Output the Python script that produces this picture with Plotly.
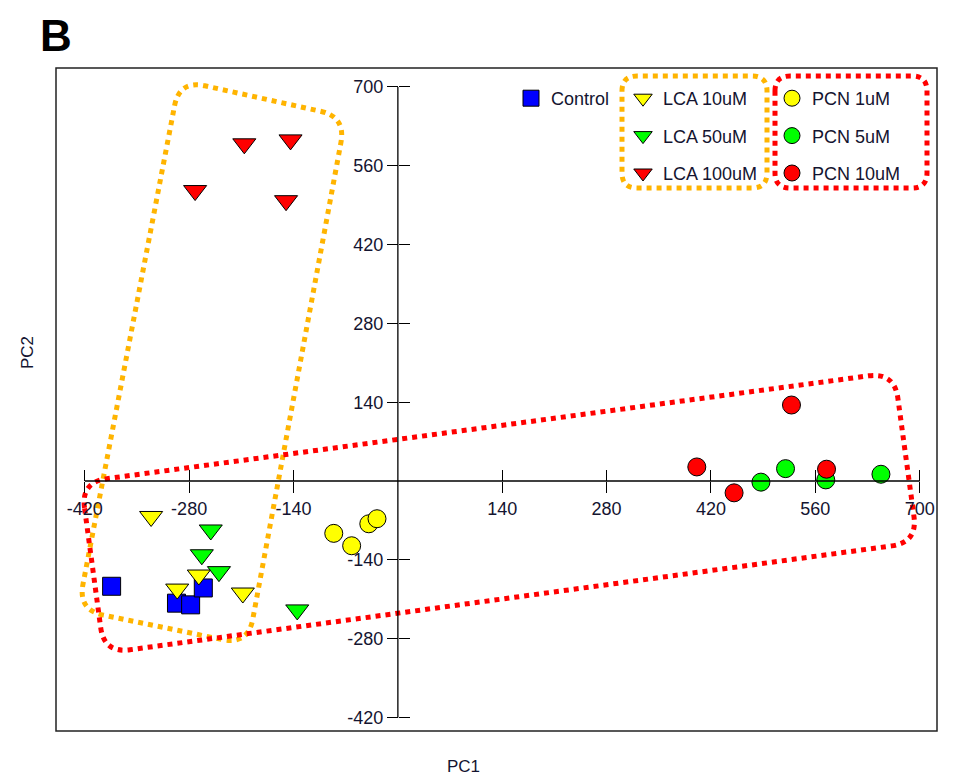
import math
import plotly.graph_objects as go

# ---------------- data ----------------
control_x = [-384, -297, -278, -261]
control_y = [-187, -217, -220, -190]
lca10_x = [-331, -296, -267, -208]
lca10_y = [-63, -192, -167, -199]
lca50_x = [-251, -263, -240, -135]
lca50_y = [-87, -131, -161, -229]
lca100_x = [-206, -144, -272, -150]
lca100_y = [599, 606, 516, 498]
pcn1_x = [-86, -62, -39, -28]
pcn1_y = [-93, -115, -76, -67]
pcn5_x = [487, 520, 574, 648]
pcn5_y = [-2, 22, 2, 12]
pcn10_x = [401, 451, 528, 575]
pcn10_y = [25, -21, 135, 21]

x_ticks = [-420, -280, -140, 140, 280, 420, 560, 700]
y_ticks = [-420, -280, -140, 140, 280, 420, 560, 700]
x_ticktext = [str(v) for v in x_ticks]
y_ticktext = [str(v) for v in y_ticks]

# group outlines (corners in data units)
lca_group = [(-293, 712), (-70, 647), (-201, -291), (-429, -229)]
pcn_group = [(-425, -2), (666, 193), (697, -109), (-394, -306)]

# ---------------- geometry ----------------
OFF = 8                      # page body margin
W, H = 954 - OFF, 782 - OFF
PX0, PX1, PY0, PY1 = 56, 937, 68, 731   # plot area on screen
ML, MT = PX0 - OFF, PY0 - OFF
MR, MB = W - (PX1 - OFF), H - (PY1 - OFF)
PW, PH = PX1 - PX0, PY1 - PY0
XR = [-458.6, 723.2]
YR = [-444.1, 733.7]
FONT = "Liberation Sans, Arial, sans-serif"
TXT = "#141430"


def to_px(x, y):
    return (PX0 + (x - XR[0]) / (XR[1] - XR[0]) * PW,
            PY0 + (YR[1] - y) / (YR[1] - YR[0]) * PH)


def px_to_paper(px, py):
    return ((px - PX0) / PW, (PY1 - py) / PH)


def rounded_path(pts, r):
    n = len(pts)
    segs = []
    for i in range(n):
        p = pts[i]
        a = pts[i - 1]
        b = pts[(i + 1) % n]

        def unit(q):
            dx, dy = q[0] - p[0], q[1] - p[1]
            d = math.hypot(dx, dy)
            return dx / d, dy / d
        ua, ub = unit(a), unit(b)
        A = (p[0] + ua[0] * r, p[1] + ua[1] * r)
        B = (p[0] + ub[0] * r, p[1] + ub[1] * r)
        segs.append((A, p, B))

    def fmt(q):
        x, y = px_to_paper(*q)
        return f"{x:.5f},{y:.5f}"
    path = "M" + fmt(segs[0][0])
    for i, (A, P, B) in enumerate(segs):
        if i > 0:
            path += " L" + fmt(A)
        path += " Q" + fmt(P) + " " + fmt(B)
    return path + " Z"


def box_px(x0, y0, x1, y1):
    return [(x0, y0), (x1, y0), (x1, y1), (x0, y1)]


ORANGE = "#FFB400"
RED = "#FF0000"

fig = go.Figure()

mk_line = dict(color="black", width=1)
series = [
    ("Control", control_x, control_y, "square", "#0000FF", 18, "legend", 1),
    ("LCA 50uM", lca50_x, lca50_y, "triangle-down", "#00FF00", 20, "legend2", 2),
    ("LCA 10uM", lca10_x, lca10_y, "triangle-down", "#FFFF00", 20, "legend2", 1),
    ("LCA 100uM", lca100_x, lca100_y, "triangle-down", "#FF0000", 20, "legend2", 3),
    ("PCN 1uM", pcn1_x, pcn1_y, "circle", "#FFFF00", 18, "legend3", 1),
    ("PCN 5uM", pcn5_x, pcn5_y, "circle", "#00FF00", 18, "legend3", 2),
    ("PCN 10uM", pcn10_x, pcn10_y, "circle", "#FF0000", 18, "legend3", 3),
]
for name, xs, ys, sym, col, size, leg, rank in series:
    fig.add_trace(go.Scatter(
        x=xs, y=ys, mode="markers", name=name,
        marker=dict(symbol=sym, color=col, size=size, line=mk_line),
        legend=leg, legendrank=rank, legendgroup=name,
    ))

# dummy trace for overlay axes (crossing tick marks)
fig.add_trace(go.Scatter(x=[], y=[], xaxis="x2", yaxis="y2", showlegend=False,
                         hoverinfo="skip"))

xpos = (0 - YR[0]) / (YR[1] - YR[0])
ypos = (0 - XR[0]) / (XR[1] - XR[0])
tickfont = dict(family=FONT, size=18, color=TXT)

common_x = dict(range=XR, tickvals=x_ticks, ticktext=x_ticktext, showgrid=False,
                zeroline=False, showline=False, anchor="free", position=xpos,
                ticklen=11, tickcolor="black", tickwidth=1.3)
common_y = dict(range=YR, tickvals=y_ticks, ticktext=y_ticktext, showgrid=False,
                zeroline=False, showline=False, anchor="free", position=ypos,
                ticklen=11, tickcolor="black", tickwidth=1.3)

shapes = []
# frame
shapes.append(dict(type="rect", xref="paper", yref="paper", x0=0, y0=0, x1=1, y1=1,
                   line=dict(color="#222", width=1.5), layer="above"))
# axis lines
shapes.append(dict(type="line", xref="x", yref="y", x0=min(x_ticks), x1=max(x_ticks),
                   y0=0, y1=0, line=dict(color="black", width=1.3)))
shapes.append(dict(type="line", xref="x", yref="y", x0=0, x1=0,
                   y0=min(y_ticks), y1=max(y_ticks), line=dict(color="black", width=1.3)))
dash = dict(width=5, dash="5px,5px")
shapes.append(dict(type="path", xref="paper", yref="paper",
                   path=rounded_path([to_px(*p) for p in lca_group], 26),
                   line=dict(color=ORANGE, **dash), layer="below"))
shapes.append(dict(type="path", xref="paper", yref="paper",
                   path=rounded_path([to_px(*p) for p in pcn_group], 26),
                   line=dict(color=RED, **dash), layer="below"))
# legend group boxes
shapes.append(dict(type="path", xref="paper", yref="paper",
                   path=rounded_path(box_px(622, 76, 767, 188), 15),
                   line=dict(color=ORANGE, **dash)))
shapes.append(dict(type="path", xref="paper", yref="paper",
                   path=rounded_path(box_px(775, 76, 927, 188), 15),
                   line=dict(color=RED, **dash)))

legfont = dict(family=FONT, size=18, color=TXT)


def leg(px_left, py_top):
    x, y = px_to_paper(px_left, py_top)
    return dict(x=x, y=y, xanchor="left", yanchor="top", bgcolor="rgba(0,0,0,0)",
                font=legfont, tracegroupgap=11, orientation="v")


annotations = []
bx, by = px_to_paper(38, 9)
annotations.append(dict(text="<b>B</b>", x=bx, y=by, xref="paper", yref="paper",
                        xanchor="left", yanchor="top", showarrow=False,
                        font=dict(family=FONT, size=44, color="black")))
p1x, p1y = px_to_paper(463, 766)
annotations.append(dict(text="PC1", x=p1x, y=p1y, xref="paper", yref="paper",
                        xanchor="center", yanchor="middle", showarrow=False,
                        font=dict(family=FONT, size=17, color=TXT)))
p2x, p2y = px_to_paper(27, 353)
annotations.append(dict(text="PC2", x=p2x, y=p2y, xref="paper", yref="paper",
                        xanchor="center", yanchor="middle", showarrow=False,
                        textangle=-90, font=dict(family=FONT, size=17, color=TXT)))

fig.update_layout(
    width=W, height=H,
    margin=dict(l=ML, r=MR, t=MT, b=MB, pad=0),
    paper_bgcolor="white", plot_bgcolor="white",
    xaxis=dict(**common_x, ticks="outside", tickfont=tickfont),
    yaxis=dict(**common_y, ticks="outside", tickfont=tickfont),
    xaxis2=dict(**common_x, overlaying="x", ticks="inside", showticklabels=False),
    yaxis2=dict(**common_y, overlaying="y", ticks="inside", showticklabels=False),
    legend=leg(511, 80),
    legend2=leg(623, 80),
    legend3=leg(772, 80),
    shapes=shapes,
    annotations=annotations,
    showlegend=True,
)

fig.write_html("out.html")
